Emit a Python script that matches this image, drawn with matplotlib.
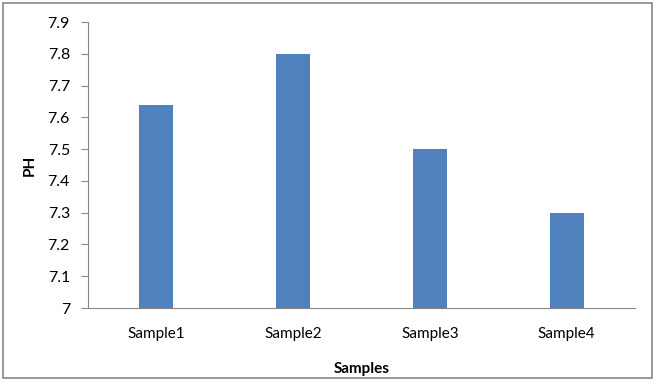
import matplotlib.pyplot as plt
from matplotlib.patches import Rectangle

samples = ['Sample1', 'Sample2', 'Sample3', 'Sample4']
ph = [7.64, 7.80, 7.50, 7.30]
yticks = [7.0, 7.1, 7.2, 7.3, 7.4, 7.5, 7.6, 7.7, 7.8, 7.9]
ylabels = ['7', '7.1', '7.2', '7.3', '7.4', '7.5', '7.6', '7.7', '7.8', '7.9']

plt.rcParams['font.family'] = ['Lato', 'DejaVu Sans']

W, H = 657, 383
fig = plt.figure(figsize=(W / 100, H / 100), dpi=100)
ax = fig.add_axes([88 / W, 1 - 308 / H, (635 - 88) / W, (308 - 22) / H])

# outer chart border like Excel
fig.patches.append(Rectangle((3 / W, 1 - 378 / H), (652 - 3) / W, (378 - 3) / H,
                             transform=fig.transFigure, fill=False,
                             edgecolor='#868686', linewidth=1.2))

x = range(len(samples))
ax.bar(x, [v - 7 for v in ph], bottom=7, width=0.25, color='#4F81BD')

ax.set_xlim(-0.5, 3.5)
ax.set_ylim(7, 7.9)
ax.set_yticks(yticks)
ax.set_yticklabels(ylabels, fontsize=11.5)
ax.set_xticks(list(x))
ax.set_xticklabels(samples, fontsize=11)

for s in ['top', 'right']:
    ax.spines[s].set_visible(False)
for s in ['left', 'bottom']:
    ax.spines[s].set_color('#868686')
ax.tick_params(axis='y', length=5, color='#868686', pad=8)
ax.tick_params(axis='x', length=0, pad=14)

ax.set_ylabel('PH', fontsize=11, fontweight='bold', labelpad=8)
ax.set_xlabel('Samples', fontsize=11, fontweight='bold', labelpad=15)

fig.savefig('out.png', dpi=100)
